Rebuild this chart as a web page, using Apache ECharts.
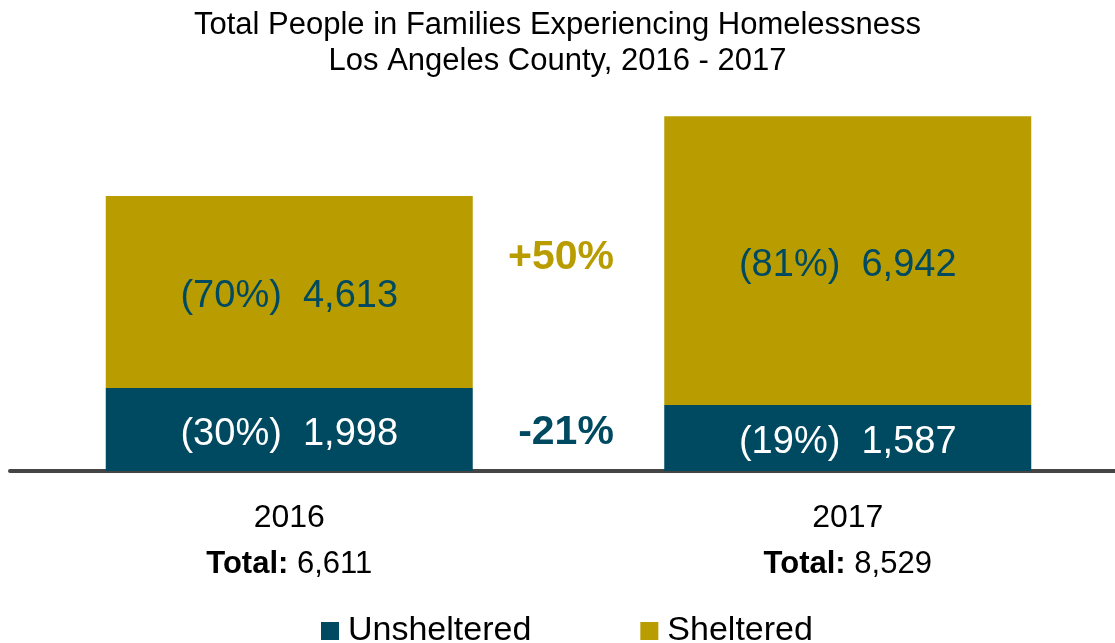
<!DOCTYPE html>
<html>
<head>
<meta charset="utf-8">
<script src="https://cdn.jsdelivr.net/npm/echarts@6/dist/echarts.min.js"></script>
<style>
html,body{margin:0;padding:0;background:#fff;}
#chart{width:1115px;height:643px;}
</style>
</head>
<body>
<div id="chart"></div>
<script>
const categories = ['2016', '2017'];
const unsheltered = [1998, 1587];
const sheltered = [4613, 6942];
const titleLines = ['Total People in Families Experiencing Homelessness', 'Los Angeles County, 2016 - 2017'];

const TEAL = '#004a61';
const GOLD = '#b99c00';
const FONT = '"Liberation Sans", Arial, Helvetica, sans-serif';

const totals = categories.map((c, i) => unsheltered[i] + sheltered[i]);
const fmt = n => n.toLocaleString('en-US');
const pct = (v, t) => Math.round(v / t * 100) + '%';
const change = (a, b) => {
  const p = Math.round((b - a) / a * 100);
  return (p > 0 ? '+' : '') + p + '%';
};

const chart = echarts.init(document.getElementById('chart'));
chart.setOption({
  animation: false,
  backgroundColor: '#fff',
  textStyle: { fontFamily: FONT },
  title: {
    text: titleLines.join('\n'),
    left: 'center',
    top: 2,
    textStyle: { fontFamily: FONT, fontSize: 31, fontWeight: 'normal', color: '#000', lineHeight: 36 }
  },
  legend: {
    top: 609,
    left: 316,
    itemWidth: 18,
    itemHeight: 18,
    itemGap: 109,
    icon: 'rect',
    textStyle: { fontFamily: FONT, fontSize: 34, color: '#000', padding: [5, 0, 0, 4] },
    data: ['Unsheltered', 'Sheltered']
  },
  grid: { left: 10, width: 1117, top: 55, height: 416, containLabel: false, outerBoundsMode: 'none' },
  xAxis: {
    type: 'category',
    data: categories,
    offset: 2,
    axisTick: { show: false },
    axisLine: { lineStyle: { color: '#454545', width: 4 } },
    axisLabel: {
      margin: 22,
      formatter: (v, i) => '{yr|' + v + '}\n{b|Total: }{v|' + fmt(totals[i]) + '}',
      rich: {
        yr: { fontFamily: FONT, fontSize: 32, color: '#000', lineHeight: 46 },
        b: { fontFamily: FONT, fontSize: 31, color: '#000', fontWeight: 'bold', lineHeight: 46 },
        v: { fontFamily: FONT, fontSize: 31, color: '#000', lineHeight: 46 }
      }
    }
  },
  yAxis: {
    type: 'value',
    min: 0,
    max: 10000,
    show: false,
    splitLine: { show: false }
  },
  series: [
    {
      name: 'Unsheltered',
      type: 'bar',
      stack: 'total',
      barWidth: 367,
      data: unsheltered,
      itemStyle: { color: TEAL },
      label: {
        show: true,
        position: 'inside',
        offset: [0, 5],
        fontFamily: FONT,
        fontSize: 38,
        color: '#fff',
        formatter: p => '(' + pct(p.value, totals[p.dataIndex]) + ')  ' + fmt(p.value)
      }
    },
    {
      name: 'Sheltered',
      type: 'bar',
      stack: 'total',
      barWidth: 367,
      data: sheltered,
      itemStyle: { color: GOLD },
      label: {
        show: true,
        position: 'inside',
        offset: [0, 5],
        fontFamily: FONT,
        fontSize: 38,
        color: TEAL,
        formatter: p => '(' + pct(p.value, totals[p.dataIndex]) + ')  ' + fmt(p.value)
      }
    }
  ],
  graphic: [
    {
      type: 'text',
      x: 561, y: 258,
      style: {
        text: change(sheltered[0], sheltered[1]),
        fill: GOLD,
        font: 'bold 41px ' + FONT,
        align: 'center',
        verticalAlign: 'middle'
      }
    },
    {
      type: 'text',
      x: 566, y: 433,
      style: {
        text: change(unsheltered[0], unsheltered[1]),
        fill: TEAL,
        font: 'bold 41px ' + FONT,
        align: 'center',
        verticalAlign: 'middle'
      }
    }
  ]
});
</script>
</body>
</html>
